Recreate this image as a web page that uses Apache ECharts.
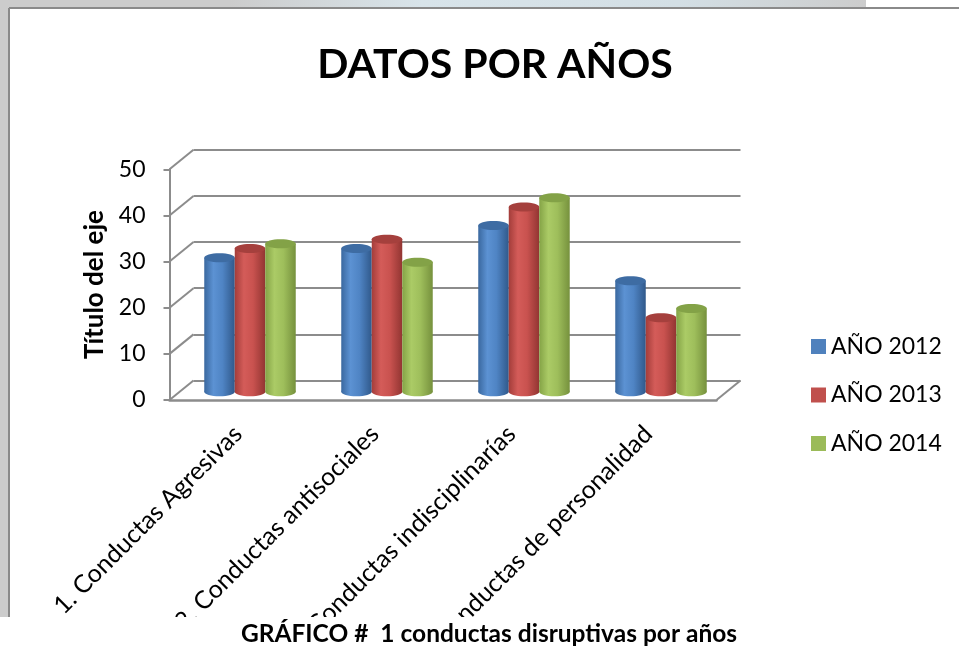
<!DOCTYPE html>
<html>
<head>
<meta charset="utf-8">
<script src="https://cdn.jsdelivr.net/npm/echarts@6/dist/echarts.min.js"></script>
<style>
  html, body { margin: 0; padding: 0; background: #fff; }
  #chart { width: 959px; height: 648px; }
</style>
</head>
<body>
<div id="chart"></div>
<script>
var categories = ['1. Conductas Agresivas', '2. Conductas antisociales', '3. Conductas indisciplinarías', '4. Conductas de personalidad'];
var years = ['AÑO 2012', 'AÑO 2013', 'AÑO 2014'];
var data2012 = [29, 31, 36, 24];
var data2013 = [31, 33, 40, 16];
var data2014 = [32, 28, 42, 18];
var yTicks = [0, 10, 20, 30, 40, 50];

var font = 'Lato';
var gridColor = '#8c8c8c';
// profundidad del efecto 3D
var depthX = 24;
var depthY = 19.5;

var palette = [
    { base: '#4F81BD', top: '#3e6ca3', stops: ['#3a689f', '#5c92d3', '#4f84c4', '#30598b'] },
    { base: '#C0504D', top: '#a5403d', stops: ['#a33d3a', '#d45c59', '#c9524f', '#923532'] },
    { base: '#9BBB59', top: '#83a247', stops: ['#84a346', '#abcb66', '#9ebe5b', '#76913d'] }
];

function cylGradient(p) {
    return new echarts.graphic.LinearGradient(0, 0, 1, 0, [
        { offset: 0, color: p.stops[0] },
        { offset: 0.3, color: p.stops[1] },
        { offset: 0.6, color: p.stops[2] },
        { offset: 1, color: p.stops[3] }
    ]);
}

function cylinder(idx) {
    var p = palette[idx];
    var grad = cylGradient(p);
    return function (params, api) {
        var cat = api.value(0);
        var val = api.value(1);
        var band = api.size([1, 0])[0];
        var w = band * 0.2226;
        var base = api.coord([cat, 0]);
        var cx = base[0] + (idx - 1) * w;
        var yTop = api.coord([cat, val])[1];
        var ry = 4.5;
        return {
            type: 'group',
            children: [
                { type: 'ellipse', shape: { cx: cx, cy: base[1], rx: w / 2, ry: ry }, style: { fill: grad } },
                { type: 'rect', shape: { x: cx - w / 2, y: yTop, width: w, height: base[1] - yTop }, style: { fill: grad } },
                { type: 'ellipse', shape: { cx: cx, cy: yTop, rx: w / 2, ry: ry }, style: { fill: p.top } }
            ]
        };
    };
}

function pairs(arr) {
    return arr.map(function (v, i) { return [i, v]; });
}

// diagonales de la pared lateral y del piso
function wallLines(params, api) {
    var cs = params.coordSys;
    var v = api.value(1);
    var y = api.coord([0, v])[1];
    var children = [{
        type: 'line',
        shape: { x1: cs.x, y1: y, x2: cs.x + depthX, y2: y - depthY },
        style: { stroke: gridColor, lineWidth: 2 }
    }];
    if (v === 0) {
        children.push({
            type: 'line',
            shape: { x1: cs.x + cs.width, y1: y, x2: cs.x + cs.width + depthX, y2: y - depthY },
            style: { stroke: gridColor, lineWidth: 2 }
        });
    }
    return { type: 'group', children: children };
}

var seriesData = [data2012, data2013, data2014];

var option = {
    animation: false,
    title: {
        text: 'DATOS POR AÑOS',
        left: 490,
        top: 39,
        textAlign: 'center',
        textStyle: { fontFamily: font, fontSize: 41, fontWeight: 'bold', color: '#000' }
    },
    legend: {
        orient: 'vertical',
        left: 811,
        top: 335,
        padding: 0,
        itemWidth: 15,
        itemHeight: 15,
        itemGap: 25.5,
        data: years.map(function (n) { return { name: n, icon: 'rect' }; }),
        textStyle: { fontFamily: font, fontSize: 23, color: '#000' }
    },
    grid: [
        { left: 181.5, top: 160.7, width: 548, height: 231, outerBoundsMode: 'none' },
        { left: 193.5, top: 149.8, width: 547, height: 230.7, outerBoundsMode: 'none' },
        { left: 169.5, top: 169.3, width: 547, height: 230.7, outerBoundsMode: 'none' }
    ],
    xAxis: [
        { gridIndex: 0, type: 'category', data: categories, show: false },
        { gridIndex: 1, type: 'category', data: categories, show: false },
        {
            gridIndex: 2,
            type: 'category',
            data: categories,
            axisLine: { show: true, lineStyle: { color: gridColor, width: 2.5 } },
            axisTick: { show: false },
            axisLabel: {
                interval: 0,
                rotate: 45,
                margin: 30,
                fontFamily: font,
                fontSize: 25,
                color: '#000'
            }
        }
    ],
    yAxis: [
        { gridIndex: 0, type: 'value', min: 0, max: 50, interval: 10, show: false },
        {
            gridIndex: 1,
            type: 'value',
            min: 0,
            max: 50,
            interval: 10,
            axisLine: { show: false },
            axisTick: { show: false },
            axisLabel: { show: false },
            splitLine: { show: true, lineStyle: { color: gridColor, width: 2 } }
        },
        {
            gridIndex: 2,
            type: 'value',
            min: 0,
            max: 50,
            interval: 10,
            name: 'Título del eje',
            nameLocation: 'middle',
            nameGap: 61,
            nameTextStyle: { fontFamily: font, fontSize: 26, fontWeight: 'bold', color: '#000' },
            axisLine: { show: true, lineStyle: { color: gridColor, width: 2 } },
            axisTick: { show: true, length: 6, lineStyle: { color: gridColor, width: 2 } },
            axisLabel: { margin: 24, fontFamily: font, fontSize: 23, color: '#000' },
            splitLine: { show: false }
        }
    ],
    series: [
        {
            type: 'custom',
            xAxisIndex: 2,
            yAxisIndex: 2,
            silent: true,
            z: 1,
            renderItem: wallLines,
            data: yTicks.map(function (v) { return [0, v]; })
        }
    ].concat(years.map(function (name, i) {
        return {
            name: name,
            type: 'custom',
            xAxisIndex: 0,
            yAxisIndex: 0,
            z: 3,
            itemStyle: { color: palette[i].base },
            renderItem: cylinder(i),
            data: pairs(seriesData[i])
        };
    })),
    graphic: [
        { type: 'rect', z: -30, shape: { x: 0, y: 0, width: 959, height: 648 }, style: { fill: '#cccccc' } },
        {
            type: 'rect', z: -29, shape: { x: 230, y: 0, width: 640, height: 8 },
            style: {
                fill: new echarts.graphic.LinearGradient(0, 0, 1, 0, [
                    { offset: 0, color: '#cccccc' },
                    { offset: 0.3, color: '#d8e4ea' },
                    { offset: 0.7, color: '#d3dfe5' },
                    { offset: 1, color: '#cccccc' }
                ])
            }
        },
        { type: 'rect', z: -28, shape: { x: 866, y: 0, width: 93, height: 8 }, style: { fill: '#ffffff' } },
        { type: 'rect', z: -27, shape: { x: 9, y: 8, width: 950, height: 609 }, style: { fill: '#ffffff' } },
        { type: 'line', z: -26, shape: { x1: 9, y1: 8, x2: 9, y2: 617 }, style: { stroke: '#8a8a8a', lineWidth: 2 } },
        { type: 'line', z: -26, shape: { x1: 9, y1: 8, x2: 959, y2: 8 }, style: { stroke: '#8a8a8a', lineWidth: 2 } },
        { type: 'rect', z: 100, shape: { x: 0, y: 617, width: 959, height: 31 }, style: { fill: '#ffffff' } },
        {
            type: 'text', z: 101, x: 489, y: 634,
            style: {
                text: 'GRÁFICO #  1 conductas disruptivas por años',
                fontFamily: font, fontSize: 24.5, fontWeight: 'bold', fill: '#000',
                align: 'center', verticalAlign: 'middle'
            }
        }
    ]
};

var chart = echarts.init(document.getElementById('chart'));
chart.setOption(option);
</script>
</body>
</html>
